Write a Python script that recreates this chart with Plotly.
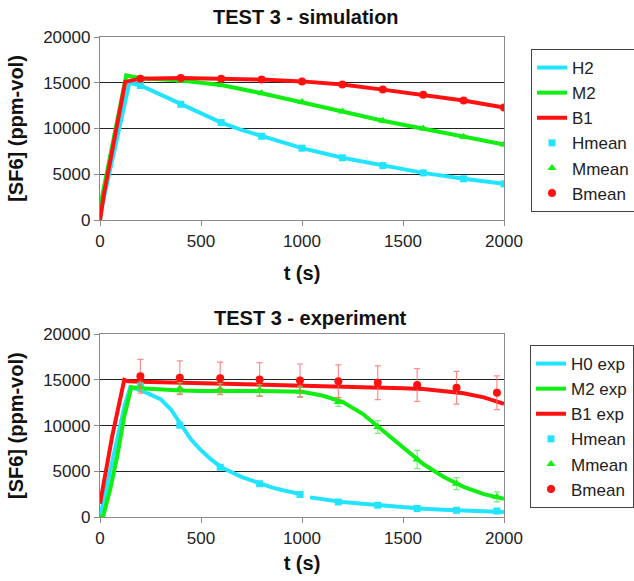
import plotly.graph_objects as go

# ---------------- data: TEST 3 - simulation ----------------
h2_t = [0, 10, 145, 200, 300, 400, 500, 600, 700, 800, 900, 1000, 1200, 1400, 1600, 1800, 2000]
h2_y = [0, 1500, 15000, 14700, 13700, 12650, 11600, 10650, 9850, 9150, 8450, 7850, 6800, 5950, 5150, 4500, 3950]

m2_t = [0, 10, 130, 200, 400, 600, 800, 1000, 1200, 1400, 1600, 1800, 2000]
m2_y = [0, 2500, 15800, 15500, 15250, 14750, 13850, 12900, 11850, 10850, 10000, 9100, 8250]

b1_t = [0, 20, 125, 200, 400, 600, 800, 1000, 1200, 1400, 1600, 1800, 2000]
b1_y = [0, 2900, 15100, 15450, 15530, 15450, 15350, 15150, 14800, 14250, 13700, 13050, 12300]

sim_mean_t = [200, 400, 600, 800, 1000, 1200, 1400, 1600, 1800, 2000]
sim_hmean = [14700, 12650, 10650, 9150, 7850, 6800, 5950, 5150, 4500, 3950]
sim_mmean = [15500, 15250, 14750, 13850, 12900, 11850, 10850, 10000, 9100, 8250]
sim_bmean = [15450, 15530, 15450, 15350, 15150, 14800, 14250, 13700, 13050, 12300]

# ---------------- data: TEST 3 - experiment ----------------
h0e_t = [0, 40, 80, 120, 150, 200, 250, 300, 350, 400, 450, 500, 550, 600, 650, 700, 750, 800,
         850, 900, 950, 1005, None, 1040, 1100, 1200, 1300, 1400, 1500, 1600, 1700, 1800, 1900, 2000]
h0e_y = [0, 4000, 8000, 12000, 14200, 13900, 13400, 12900, 11800, 10050, 8500, 7300, 6300, 5450,
         4900, 4400, 4000, 3600, 3250, 2950, 2700, 2450, None, 2150, 1950, 1650, 1450, 1250, 1100,
         900, 800, 700, 650, 550]

m2e_t = [0, 15, 50, 85, 120, 155, 200, 300, 400, 500, 600, 700, 800, 900, 1000, 1100, 1200, 1300,
         1400, 1500, 1600, 1700, 1800, 1900, 2000]
m2e_y = [0, 0, 3000, 6600, 11000, 14200, 14100, 13950, 13850, 13800, 13750, 13800, 13800, 13750,
         13700, 13300, 12600, 11300, 9500, 7700, 5800, 4400, 3300, 2500, 2000]

b1e_t = [0, 60, 120, 140, 200, 400, 600, 800, 1000, 1200, 1400, 1500, 1600, 1700, 1800, 1900, 2000]
b1e_y = [1450, 8800, 15000, 14850, 14800, 14700, 14650, 14550, 14450, 14350, 14200, 14100, 14000,
         13800, 13550, 13100, 12400]

exp_mean_t = [200, 395, 595, 790, 990, 1180, 1375, 1570, 1765, 1965]
exp_hmean = [14300, 10050, 5450, 3650, 2450, 1650, 1280, 920, 730, 650]
exp_mmean = [14250, 14100, 14000, 13900, 13700, 12600, 9850, 6300, 3650, 2200]
exp_mmean_err = [500, 600, 600, 600, 600, 500, 700, 1000, 650, 550]
exp_bmean = [15400, 15250, 15200, 15050, 14950, 14850, 14700, 14450, 14150, 13600]
exp_bmean_err = [1850, 1850, 1750, 1850, 1800, 1800, 1850, 1800, 1800, 1850]

y_ticks = [0, 5000, 10000, 15000, 20000]
x_ticks = [0, 500, 1000, 1500, 2000]

CYAN = "#22e4ff"
GREEN = "#11ee11"
RED = "#ff1111"
FONT = "Arial, Liberation Sans, sans-serif"

fig = go.Figure()

def line(x, y, name, color, xa, ya, leg):
    fig.add_trace(go.Scatter(x=x, y=y, mode="lines", name=name,
                             line=dict(color=color, width=4),
                             xaxis=xa, yaxis=ya, legend=leg, connectgaps=False))

def marks(x, y, name, color, symbol, size, xa, ya, leg, err=None, errcolor=None):
    kw = {}
    if err is not None:
        kw["error_y"] = dict(type="data", array=err, visible=True, color=errcolor,
                             thickness=1.2, width=3)
    fig.add_trace(go.Scatter(x=x, y=y, mode="markers", name=name,
                             marker=dict(color=color, symbol=symbol, size=size),
                             xaxis=xa, yaxis=ya, legend=leg, **kw))

# top (simulation)
line(h2_t, h2_y, "H2", CYAN, "x", "y", "legend")
line(m2_t, m2_y, "M2", GREEN, "x", "y", "legend")
line(b1_t, b1_y, "B1", RED, "x", "y", "legend")
marks(sim_mean_t, sim_hmean, "Hmean", CYAN, "square", 7, "x", "y", "legend")
marks(sim_mean_t, sim_mmean, "Mmean", GREEN, "triangle-up", 8, "x", "y", "legend")
marks(sim_mean_t, sim_bmean, "Bmean", RED, "circle", 8, "x", "y", "legend")

# bottom (experiment)
line(h0e_t, h0e_y, "H0 exp", CYAN, "x2", "y2", "legend2")
line(m2e_t, m2e_y, "M2 exp", GREEN, "x2", "y2", "legend2")
line(b1e_t, b1e_y, "B1 exp", RED, "x2", "y2", "legend2")
marks(exp_mean_t, exp_hmean, "Hmean", CYAN, "square", 7, "x2", "y2", "legend2")
marks(exp_mean_t, exp_mmean, "Mmean", GREEN, "triangle-up", 8, "x2", "y2", "legend2",
      err=exp_mmean_err, errcolor="rgba(80,230,80,0.75)")
marks(exp_mean_t, exp_bmean, "Bmean", RED, "circle", 8, "x2", "y2", "legend2",
      err=exp_bmean_err, errcolor="rgba(255,110,110,0.8)")

W, H = 634, 581
ML, MR, MT, MB = 100, 130, 37, 64
PH = H - MT - MB

def py(px):  # pixel y -> paper y
    return (H - MB - px) / PH

def px_(x):  # pixel x -> paper x
    return (x - ML) / (W - ML - MR)

axis_common = dict(range=[0, 2000], tickvals=x_ticks, tickformat="d", showgrid=False, zeroline=False,
                   showline=True, mirror=True, linecolor="#8a8a8a", linewidth=1.3,
                   ticks="outside", ticklen=5, tickcolor="#8a8a8a",
                   tickfont=dict(family=FONT, size=17, color="#222"))
yaxis_common = dict(range=[0, 20000], tickvals=y_ticks, tickformat="d", showgrid=True, gridcolor="#222",
                    gridwidth=1, zeroline=False, showline=True, mirror=True,
                    linecolor="#8a8a8a", linewidth=1.3, ticks="outside", ticklen=5,
                    tickcolor="#8a8a8a", tickfont=dict(family=FONT, size=17, color="#222"))

xtitle_top = dict(text="<b>t (s)</b>", font=dict(family=FONT, size=20, color="#111"), standoff=16)
xtitle_bot = dict(text="<b>t (s)</b>", font=dict(family=FONT, size=20, color="#111"), standoff=9)
ytitle = dict(text="<b>[SF6] (ppm-vol)</b>", font=dict(family=FONT, size=20, color="#111"), standoff=14)

legend_common = dict(font=dict(family=FONT, size=17, color="#222"), bordercolor="#444",
                     borderwidth=1, bgcolor="white", xanchor="left", yanchor="top",
                     itemwidth=30, tracegroupgap=0)

fig.update_layout(
    width=W, height=H, margin=dict(l=ML, r=MR, t=MT, b=MB, autoexpand=False),
    paper_bgcolor="white", plot_bgcolor="white",
    xaxis=dict(domain=[0, 1], anchor="y", title=xtitle_top, automargin=False, **axis_common),
    yaxis=dict(domain=[py(220), 1.0], anchor="x", title=ytitle, automargin=False, **yaxis_common),
    xaxis2=dict(domain=[0, 1], anchor="y2", title=xtitle_bot, automargin=False, **axis_common),
    yaxis2=dict(domain=[0, py(334.3)], anchor="x2", title=ytitle, automargin=False, **yaxis_common),
    legend=dict(x=px_(531), y=py(49), **legend_common),
    legend2=dict(x=px_(530), y=py(345), **legend_common),
    annotations=[
        dict(text="<b>TEST 3 - simulation</b>", x=px_(306), y=py(17), xref="paper", yref="paper",
             showarrow=False, xanchor="center", yanchor="middle",
             font=dict(family=FONT, size=20, color="#111")),
        dict(text="<b>TEST 3 - experiment</b>", x=px_(310), y=py(318), xref="paper", yref="paper",
             showarrow=False, xanchor="center", yanchor="middle",
             font=dict(family=FONT, size=20, color="#111")),
    ],
)

fig.write_html("out.html")
